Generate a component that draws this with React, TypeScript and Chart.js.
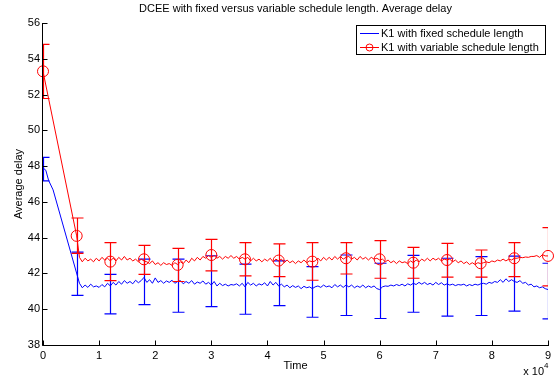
import React, { useEffect, useRef } from "react";
import { Chart, registerables } from "chart.js";

Chart.register(...registerables);

const TITLE = "DCEE with fixed versus variable schedule length. Average delay";
const SERIES_NAMES = ["K1 with fixed schedule length", "K1 with variable schedule length"];
const X_LABEL = "Time";
const Y_LABEL = "Average delay";
const X_EXPONENT = "4";

// Time (sample instants) of the sparse leading samples
const BLUE_HEAD_T = [0, 500, 1000, 1800];
const BLUE_HEAD_Y = [47.9, 47.77, 47.2, 46.67];
const RED_HEAD_T = [0, 6000];
const RED_HEAD_Y = [53.3, 44.1];

// Dense samples every 500 time units from 6500 to 90000
const DENSE_START = 6500;
const DENSE_STEP = 500;
const BLUE_DENSE = [
  41.45, 41.2, 41.35, 41.22, 41.4, 41.25, 41.3, 41.22, 41.38, 41.25, 41.45, 41.3,
  41.5, 41.35, 41.55, 41.4, 41.6, 41.45, 41.55, 41.42, 41.62, 41.48, 41.6, 41.78,
  41.5, 41.65, 41.45, 41.75, 41.5, 41.6, 41.45, 41.58, 41.5, 41.62, 41.45, 41.55,
  41.6, 41.42, 41.55, 41.45, 41.6, 41.4, 41.52, 41.45, 41.58, 41.4, 41.5, 41.35,
  41.55, 41.3, 41.45, 41.32, 41.4, 41.3, 41.38, 41.35, 41.42, 41.3, 41.45, 41.25,
  41.5, 41.35, 41.45, 41.3, 41.42, 41.35, 41.48, 41.3, 41.55, 41.35, 41.5, 41.3,
  41.4, 41.25, 41.35, 41.2, 41.32, 41.22, 41.3, 41.15, 41.28, 41.2, 41.25, 41.15,
  41.25, 41.3, 41.22, 41.35, 41.25, 41.3, 41.2, 41.38, 41.25, 41.35, 41.22, 41.35,
  41.25, 41.35, 41.2, 41.3, 41.22, 41.35, 41.2, 41.3, 41.22, 41.3, 41.15, 41.1,
  41.25, 41.3, 41.28, 41.35, 41.3, 41.38, 41.32, 41.4, 41.3, 41.42, 41.35, 41.45,
  41.38, 41.5, 41.4, 41.5, 41.38, 41.45, 41.35, 41.5, 41.38, 41.48, 41.35, 41.42,
  41.35, 41.4, 41.32, 41.38, 41.35, 41.4, 41.3, 41.38, 41.32, 41.4, 41.35, 41.42,
  41.45, 41.4, 41.5, 41.45, 41.55, 41.5, 41.65, 41.5, 41.7, 41.55, 41.65, 41.55,
  41.5, 41.6, 41.45, 41.5, 41.35, 41.4, 41.25, 41.3, 41.2, 41.25, 41.15, 41.1,
];
const RED_DENSE = [
  42.9, 42.65, 42.85, 42.7, 42.8, 42.65, 42.85, 42.7, 42.9, 42.75, 42.85, 42.7,
  42.85, 42.7, 42.9, 42.75, 42.95, 42.75, 42.85, 42.7, 42.8, 42.65, 42.8, 42.7,
  42.65, 42.55, 42.7, 42.5, 42.6, 42.45, 42.6, 42.5, 42.55, 42.45, 42.6, 42.5,
  42.65, 42.55, 42.75, 42.6, 42.85, 42.7, 42.9, 42.75, 42.95, 42.85, 43.0, 42.9,
  43.0, 42.85, 42.95, 42.8, 42.95, 42.85, 43.0, 42.85, 42.95, 42.8, 42.9, 42.8,
  42.9, 42.7, 42.85, 42.7, 42.8, 42.65, 42.8, 42.7, 42.85, 42.65, 42.8, 42.7,
  42.8, 42.6, 42.75, 42.6, 42.7, 42.55, 42.7, 42.6, 42.75, 42.6, 42.7, 42.65,
  42.7, 42.85, 42.7, 42.9, 42.75, 42.9, 42.75, 42.95, 42.8, 42.95, 42.8, 42.9,
  42.95, 42.8, 42.9, 42.75, 42.95, 42.8, 42.9, 42.75, 42.9, 42.8, 42.85, 42.75,
  42.8, 42.65, 42.75, 42.6, 42.7, 42.55, 42.7, 42.6, 42.65, 42.55, 42.7, 42.6,
  42.75, 42.65, 42.8, 42.7, 42.85, 42.7, 42.85, 42.75, 42.85, 42.7, 42.8, 42.75,
  42.8, 42.65, 42.75, 42.6, 42.7, 42.55, 42.65, 42.5, 42.6, 42.5, 42.6, 42.55,
  42.6, 42.65, 42.6, 42.7, 42.65, 42.75, 42.7, 42.8, 42.7, 42.8, 42.75, 42.85,
  42.85, 42.9, 42.88, 42.92, 42.9, 42.95, 42.95, 43.0, 42.9, 43.05, 42.98, 42.98,
];

// Error bars every 6000 time units
const ERR_T = [0, 6000, 12000, 18000, 24000, 30000, 36000, 42000, 48000, 54000, 60000, 66000, 72000, 78000, 84000, 90000];
const BLUE_HIGH = [48.49, 43.19, 41.95, 42.8, 42.8, 42.99, 42.52, 42.7, 42.38, 43.03, 42.57, 43.01, 42.85, 42.94, 42.97, 42.57];
const BLUE_LOW = [47.18, 40.77, 39.74, 40.26, 39.83, 40.15, 39.72, 40.2, 39.55, 39.65, 39.48, 39.83, 39.61, 39.65, 39.89, 39.46];
const RED_MARK = [53.3, 44.1, 42.66, 42.79, 42.48, 43.03, 42.79, 42.72, 42.66, 42.85, 42.79, 42.6, 42.75, 42.57, 42.85, 42.98];
const RED_HIGH = [54.81, 45.1, 43.72, 43.57, 43.4, 43.91, 43.72, 43.65, 43.72, 43.72, 43.83, 43.46, 43.68, 43.31, 43.72, 44.56];
const RED_LOW = [51.78, 43.12, 41.6, 41.95, 41.55, 42.14, 41.86, 41.82, 41.62, 41.97, 41.73, 41.73, 41.79, 41.79, 41.82, 41.3];

const X_MIN = 0;
const X_MAX = 90000;
const X_STEP = 10000;
const Y_MIN = 38;
const Y_MAX = 56;
const Y_STEP = 2;

const BLUE = "#0000ff";
const RED = "#ff0000";
const FONT = "Liberation Sans, Arial, Helvetica, sans-serif";

function toPoints(headT: number[], headY: number[], dense: number[]) {
  const pts = headT.map((t, i) => ({ x: t, y: headY[i] }));
  dense.forEach((v, i) => pts.push({ x: DENSE_START + i * DENSE_STEP, y: v }));
  return pts;
}

function drawErrorBars(chart: any, lows: number[], highs: number[], color: string) {
  const ctx = chart.ctx;
  const xs = chart.scales.x;
  const ys = chart.scales.y;
  const a = chart.chartArea;
  ctx.save();
  ctx.beginPath();
  ctx.rect(a.left, a.top, a.right - a.left, a.bottom - a.top);
  ctx.clip();
  ctx.strokeStyle = color;
  ctx.lineWidth = 1.2;
  ERR_T.forEach((t, i) => {
    const x = Math.round(xs.getPixelForValue(t)) + 0.5;
    const yl = ys.getPixelForValue(lows[i]);
    const yh = ys.getPixelForValue(highs[i]);
    ctx.beginPath();
    ctx.moveTo(x, yl);
    ctx.lineTo(x, yh);
    ctx.moveTo(x - 6, yl);
    ctx.lineTo(x + 6, yl);
    ctx.moveTo(x - 6, yh);
    ctx.lineTo(x + 6, yh);
    ctx.stroke();
  });
  ctx.restore();
}

const overlay = {
  id: "overlay",
  afterDatasetDraw(chart: any, args: any) {
    if (args.index === 0) drawErrorBars(chart, BLUE_LOW, BLUE_HIGH, BLUE);
    if (args.index === 1) drawErrorBars(chart, RED_LOW, RED_HIGH, RED);
  },
  afterDraw(chart: any) {
    const ctx = chart.ctx;
    const a = chart.chartArea;
    const xs = chart.scales.x;
    const ys = chart.scales.y;
    ctx.save();
    // axes
    ctx.strokeStyle = "#000";
    ctx.lineWidth = 1;
    const ax = Math.round(a.left) - 0.5;
    const ay = Math.round(a.bottom) + 0.5;
    ctx.beginPath();
    ctx.moveTo(ax, Math.round(a.top));
    ctx.lineTo(ax, ay);
    ctx.lineTo(Math.round(a.right) + 1, ay);
    // inward ticks
    for (let v = Y_MIN; v <= Y_MAX; v += Y_STEP) {
      const y = Math.round(ys.getPixelForValue(v)) + 0.5;
      ctx.moveTo(ax, y);
      ctx.lineTo(ax + 5, y);
    }
    for (let v = X_MIN; v <= X_MAX; v += X_STEP) {
      const x = Math.round(xs.getPixelForValue(v)) + 0.5;
      ctx.moveTo(x, ay);
      ctx.lineTo(x, ay - 5);
    }
    ctx.stroke();

    ctx.fillStyle = "#000";
    // title
    ctx.font = "11px " + FONT;
    ctx.textAlign = "center";
    ctx.textBaseline = "middle";
    ctx.fillText(TITLE, (a.left + a.right) / 2, 9);
    // x label
    ctx.fillText(X_LABEL, (a.left + a.right) / 2, 366);
    // exponent
    ctx.textAlign = "right";
    ctx.fillText("x 10", a.right - 4, 372);
    ctx.font = "8px " + FONT;
    ctx.textAlign = "left";
    ctx.fillText(X_EXPONENT, a.right - 4, 366);
    // y label
    ctx.font = "11px " + FONT;
    ctx.save();
    ctx.translate(19, (a.top + a.bottom) / 2);
    ctx.rotate(-Math.PI / 2);
    ctx.textAlign = "center";
    ctx.fillText(Y_LABEL, 0, 0);
    ctx.restore();

    // legend
    const lx = 356.5, ly = 25.5, lw = 189, lh = 29;
    ctx.fillStyle = "#fff";
    ctx.fillRect(lx, ly, lw, lh);
    ctx.strokeStyle = "#000";
    ctx.strokeRect(lx, ly, lw, lh);
    const rows = [
      { name: SERIES_NAMES[0], color: BLUE, marker: false, y: 33.5 },
      { name: SERIES_NAMES[1], color: RED, marker: true, y: 47.5 },
    ];
    rows.forEach((r) => {
      ctx.strokeStyle = r.color;
      ctx.beginPath();
      ctx.moveTo(360, r.y);
      ctx.lineTo(379, r.y);
      ctx.stroke();
      if (r.marker) {
        ctx.beginPath();
        ctx.arc(369.5, r.y, 3.5, 0, Math.PI * 2);
        ctx.stroke();
      }
      ctx.fillStyle = "#000";
      ctx.textAlign = "left";
      ctx.textBaseline = "middle";
      ctx.fillText(r.name, 381, r.y);
    });
    ctx.restore();
  },
};

export default function App() {
  const ref = useRef<HTMLCanvasElement | null>(null);
  useEffect(() => {
    if (!ref.current) return;
    const chart = new Chart(ref.current, {
      type: "line",
      data: {
        datasets: [
          {
            label: SERIES_NAMES[0],
            data: toPoints(BLUE_HEAD_T, BLUE_HEAD_Y, BLUE_DENSE),
            borderColor: BLUE,
            borderWidth: 1,
            pointRadius: 0,
            tension: 0,
            order: 3,
          },
          {
            label: SERIES_NAMES[1],
            data: toPoints(RED_HEAD_T, RED_HEAD_Y, RED_DENSE),
            borderColor: RED,
            borderWidth: 1,
            pointRadius: 0,
            tension: 0,
            order: 2,
          },
          {
            label: "markers",
            data: ERR_T.map((t, i) => ({ x: t, y: RED_MARK[i] })),
            showLine: false,
            borderColor: RED,
            backgroundColor: "rgba(0,0,0,0)",
            borderWidth: 1,
            pointRadius: 5.5,
            pointStyle: "circle",
            clip: false as any,
            order: 1,
          },
        ],
      },
      options: {
        animation: false,
        responsive: false,
        maintainAspectRatio: false,
        layout: { padding: { left: 0, top: 23, right: 11, bottom: 0 } },
        plugins: { legend: { display: false }, tooltip: { enabled: false }, title: { display: false } },
        scales: {
          x: {
            type: "linear",
            min: X_MIN,
            max: X_MAX,
            grid: { display: false, drawTicks: false },
            border: { display: false },
            afterFit: (s: any) => { s.height = 37; },
            ticks: {
              stepSize: X_STEP,
              padding: 4,
              color: "#000",
              font: { family: FONT, size: 11 },
              maxRotation: 0,
              callback: (v: any) => String(Number(v) / X_STEP),
            },
          },
          y: {
            type: "linear",
            min: Y_MIN,
            max: Y_MAX,
            grid: { display: false, drawTicks: false },
            border: { display: false },
            afterFit: (s: any) => { s.width = 43; },
            ticks: {
              stepSize: Y_STEP,
              padding: 3,
              color: "#000",
              font: { family: FONT, size: 11 },
            },
          },
        },
      },
      plugins: [overlay],
    });
    return () => chart.destroy();
  }, []);
  return (
    <div style={{ position: "fixed", left: 0, top: 0, width: 559, height: 382, background: "#fff" }}>
      <canvas ref={ref} width={559} height={382} style={{ width: 559, height: 382, display: "block" }} />
    </div>
  );
}
